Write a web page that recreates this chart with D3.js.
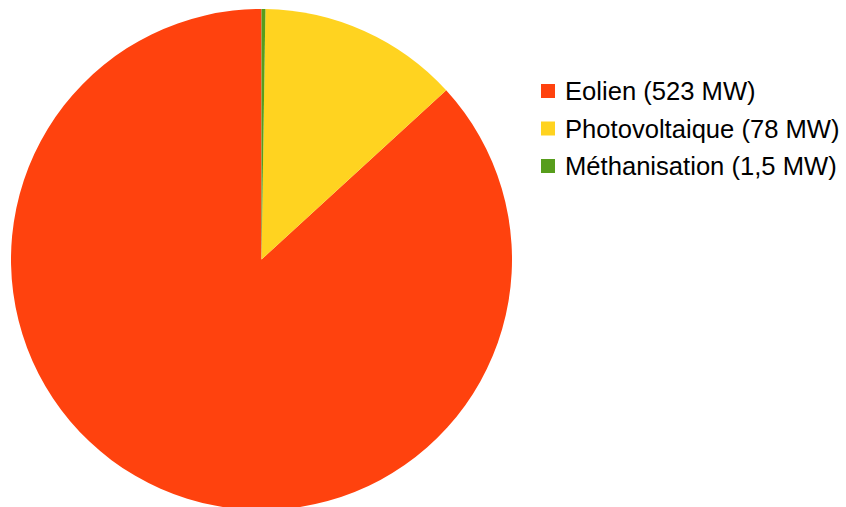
<!DOCTYPE html>
<html>
<head>
<meta charset="utf-8">
<script src="https://cdn.jsdelivr.net/npm/d3@7"></script>
<style>
  body { margin: 0; background: #fff; }
  text { font-family: "Liberation Sans", Arial, sans-serif; }
</style>
</head>
<body>
<div id="chart"></div>
<script>
"use strict";

const categories = ["Eolien", "Photovoltaique", "Méthanisation"];
const values = [523, 78, 1.5];
const labels = ["Eolien (523 MW)", "Photovoltaique (78 MW)", "Méthanisation (1,5 MW)"];
const colors = ["#ff420e", "#ffd320", "#579d1c"];

const w = 846;
const h = 507;
const cx = 261.5;
const cy = 259.5;
const r = 250.5;

const svg = d3.select("#chart").append("svg").attr("width", w).attr("height", h);

// counter-clockwise from 12 o'clock, like the original
const pie = d3.pie().sort(null).startAngle(0).endAngle(-2 * Math.PI);
const arc = d3.arc().innerRadius(0).outerRadius(r);

svg.append("g")
  .attr("transform", `translate(${cx},${cy})`)
  .selectAll("path")
  .data(pie(values))
  .enter()
  .append("path")
  .attr("d", arc)
  .attr("fill", (d, i) => colors[i]);

const color = d3.scaleOrdinal().domain(categories).range(colors);
const y = d3.scalePoint().domain(categories).range([91, 166]);

const legend = svg.append("g")
  .selectAll("g")
  .data(categories)
  .enter()
  .append("g")
  .attr("transform", (d) => `translate(541,${y(d)})`);

legend.append("rect")
  .attr("x", 0)
  .attr("y", -7)
  .attr("width", 14)
  .attr("height", 14)
  .attr("fill", (d) => color(d));

legend.append("text")
  .attr("x", 24)
  .attr("y", 9)
  .attr("font-size", 25.6)
  .attr("fill", "#000")
  .text((d, i) => labels[i]);
</script>
</body>
</html>
